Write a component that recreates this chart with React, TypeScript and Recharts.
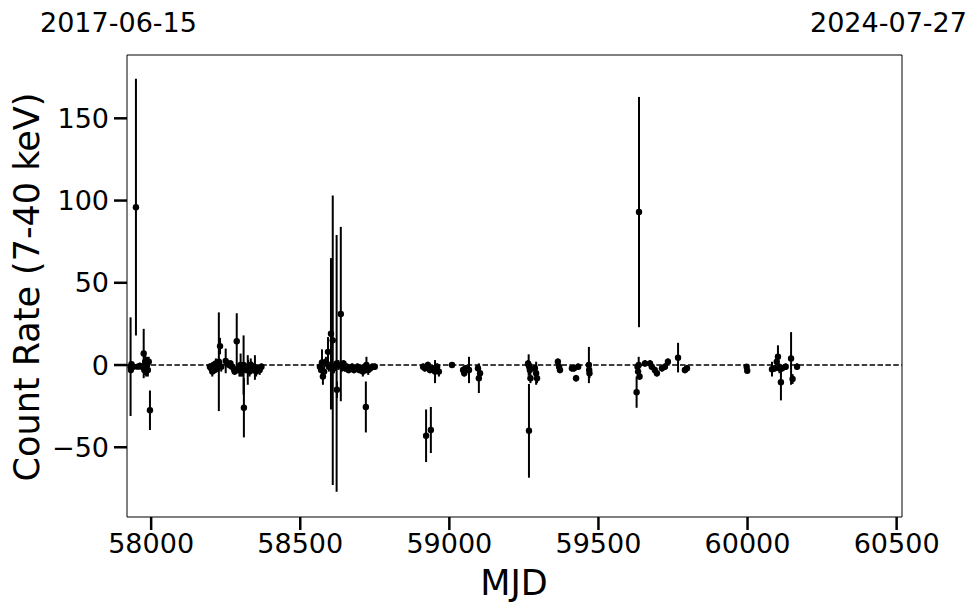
import React from "react";
import {
  ScatterChart,
  Scatter,
  XAxis,
  YAxis,
  ErrorBar,
  ReferenceLine,
} from "recharts";

// light curve: MJD, count rate, 1-sigma error
const mjd = [
  // 2017
  57931, 57932, 57934, 57940, 57949, 57955, 57962, 57969, 57975, 57977, 57980,
  57983, 57986, 57989, 57992, 57996,
  // 2018
  58197, 58201, 58205, 58209, 58213, 58217, 58221, 58227, 58231, 58235, 58250,
  58256, 58262, 58266, 58271, 58280, 58287, 58291, 58296, 58300, 58305, 58310,
  58311, 58316, 58324, 58325, 58330, 58334, 58338, 58342, 58348, 58352, 58358,
  58364, 58370,
  // 2019
  58566, 58570, 58573, 58576, 58580, 58586, 58593, 58596, 58603, 58609, 58613,
  58622, 58623, 58628, 58636, 58640, 58645, 58650, 58656, 58662, 58668, 58674,
  58680, 58686, 58692, 58698, 58704, 58710, 58716, 58720, 58722, 58728, 58735,
  58742, 58750,
  // 2020
  58912, 58918, 58922, 58928, 58935, 58938, 58945, 58952, 58959, 58965, 59009,
  59046, 59050, 59055, 59066, 59096, 59099, 59103,
  // 2021
  59264, 59266, 59267, 59268, 59270, 59272, 59287, 59291, 59294, 59364, 59368,
  59371, 59411, 59418, 59425, 59432, 59468, 59469, 59470,
  // 2022
  59628, 59631, 59633, 59635, 59636, 59638, 59656, 59673, 59679, 59689, 59696,
  59713, 59723, 59733, 59767, 59790, 59797,
  // 2023
  59997, 59999, 60082, 60091, 60098, 60102, 60107, 60112, 60116, 60128, 60146,
  60151, 60166,
];

const rate = [
  -1, -3, 0.5, -1, 96, -1, -0.5, -1, 7, -3, 2, -4, 0, -3, 2, -27.5,
  -1, -2, -4, 0, -3, 1, -2, 2, 11.5, -1, 2.5, 1, 0, 1, -1, -4, 14.5, -2, -3, 0,
  -3, 0, -26, -2, -3, -1, -4, 0, -1, -2, -1.5, -4, -2, -3, -1,
  -1, -3, 1.5, -7, -4, 2, 8, -1, 19, 15, -2, 1, -15, 0, 31, -1, 1, -2, -1, -3,
  -2, -1, -3, -2, -1, -3, -2, -4, -1, -25.5, 0, -3, -2, -1, -1,
  -1, -2, -43, 0, -3, -39.5, -2, -4, -1, -4, 0, -3, -5, -2, -3, -2, -8, -5,
  1, 0, -40, -1, -3, -8, -2, -5, -8, 2, -1, -3, -2, -2, -8, -1, 0, -3, -5,
  -16.5, -1, -4, 0, 93, -7, 1, 1, -1, -3, -5, -2, -1, 2, 4.5, -3, -2,
  -1, -3.5, -2.5, -2, 2, 5, -2, -10.5, -2, -1, 4, -8.5, -1,
];

const rateErr = [
  30, 2, 1.5, 2, 78, 1.5, 2, 2, 15, 3, 4, 3, 5, 4, 3, 12,
  2, 3, 3, 2, 2, 3, 2, 30, 5, 3, 7.5, 2, 2, 2, 3, 2, 17, 3, 4, 7, 4, 18, 18, 3,
  9, 4, 3, 4, 3, 3, 7.5, 3, 2, 3, 2,
  3, 2, 8, 5, 4, 3, 9, 3, 46, 88, 3, 78, 5, 3, 53, 3, 2, 2, 2, 2, 2, 2, 2, 2,
  2, 2, 2, 3, 2, 15.5, 5, 3, 2, 2, 2,
  2, 2, 16, 2, 2, 14, 2, 7, 2, 3, 1.5, 2, 2, 2, 8, 2, 9, 3,
  2, 6.5, 28.5, 2, 3, 3, 2, 7, 3, 2, 2, 2, 2, 2, 2, 2, 11, 2, 3,
  9.5, 2, 3, 5, 70, 2, 2, 2, 2, 2, 2, 2, 2, 2, 9, 2, 2,
  1.5, 1.5, 4.5, 2, 2, 7, 3, 11, 2, 2, 16, 3, 2,
];

const xTicks = [58000, 58500, 59000, 59500, 60000, 60500];
const yTicks = [-50, 0, 50, 100, 150];
const xDomain = [57919, 60518];
const yDomain = [-92.4, 188.5];
const startLabel = "2017-06-15";
const endLabel = "2024-07-27";

const points = mjd.map((m, i) => ({ mjd: m, rate: rate[i], err: rateErr[i] }));

const FONT = "'DejaVu Sans', sans-serif";

const fmtY = (v: number) => (v < 0 ? "\u2212" + Math.abs(v) : String(v));

const Dot = (props: any) => {
  if (props.cx == null || props.cy == null) return null;
  return <circle cx={props.cx} cy={props.cy} r={3.2} fill="#000" />;
};

const tickStyle = { fontSize: 27, fontFamily: FONT, fill: "#000" };

const App: React.FC = () => {
  return (
    <div
      style={{
        position: "absolute",
        left: 0,
        top: 0,
        width: 980,
        height: 613,
        background: "#fff",
        fontFamily: FONT,
      }}
    >
      <ScatterChart
        width={980}
        height={613}
        margin={{ top: 55, right: 78, bottom: 46, left: 0 }}
      >
        <XAxis
          type="number"
          dataKey="mjd"
          domain={xDomain}
          ticks={xTicks}
          allowDataOverflow
          height={50}
          tick={tickStyle}
          tickSize={13}
          tickMargin={4}
          tickLine={{ stroke: "#000", strokeWidth: 2.5 }}
          axisLine={{ stroke: "#000", strokeWidth: 1 }}
        />
        <YAxis
          type="number"
          dataKey="rate"
          domain={yDomain}
          ticks={yTicks}
          allowDataOverflow
          width={127}
          tick={tickStyle}
          tickFormatter={fmtY}
          tickSize={13}
          tickMargin={5}
          tickLine={{ stroke: "#000", strokeWidth: 2.5 }}
          axisLine={{ stroke: "#000", strokeWidth: 1 }}
        />
        <ReferenceLine y={yDomain[1]} stroke="#000" strokeWidth={1} />
        <ReferenceLine x={xDomain[1]} stroke="#000" strokeWidth={1} />
        <ReferenceLine
          y={0}
          stroke="#000"
          strokeWidth={1.5}
          strokeDasharray="5.5 2.4"
        />
        <Scatter data={points} shape={<Dot />} isAnimationActive={false}>
          <ErrorBar
            dataKey="err"
            direction="y"
            width={0}
            stroke="#000"
            strokeWidth={2}
            isAnimationActive={false}
          />
        </Scatter>
      </ScatterChart>

      <div
        style={{
          position: "absolute",
          left: 40,
          top: 9,
          fontSize: 27,
          lineHeight: 1,
          whiteSpace: "nowrap",
        }}
      >
        {startLabel}
      </div>
      <div
        style={{
          position: "absolute",
          left: 810,
          top: 9,
          fontSize: 27,
          lineHeight: 1,
          whiteSpace: "nowrap",
        }}
      >
        {endLabel}
      </div>
      <div
        style={{
          position: "absolute",
          left: 27,
          top: 287,
          fontSize: 35,
          lineHeight: 1,
          whiteSpace: "nowrap",
          transform: "translate(-50%, -50%) rotate(-90deg)",
        }}
      >
        Count Rate (7-40 keV)
      </div>
      <div
        style={{
          position: "absolute",
          left: 514,
          top: 583,
          fontSize: 35,
          lineHeight: 1,
          whiteSpace: "nowrap",
          transform: "translate(-50%, -50%)",
        }}
      >
        MJD
      </div>
    </div>
  );
};

export default App;
